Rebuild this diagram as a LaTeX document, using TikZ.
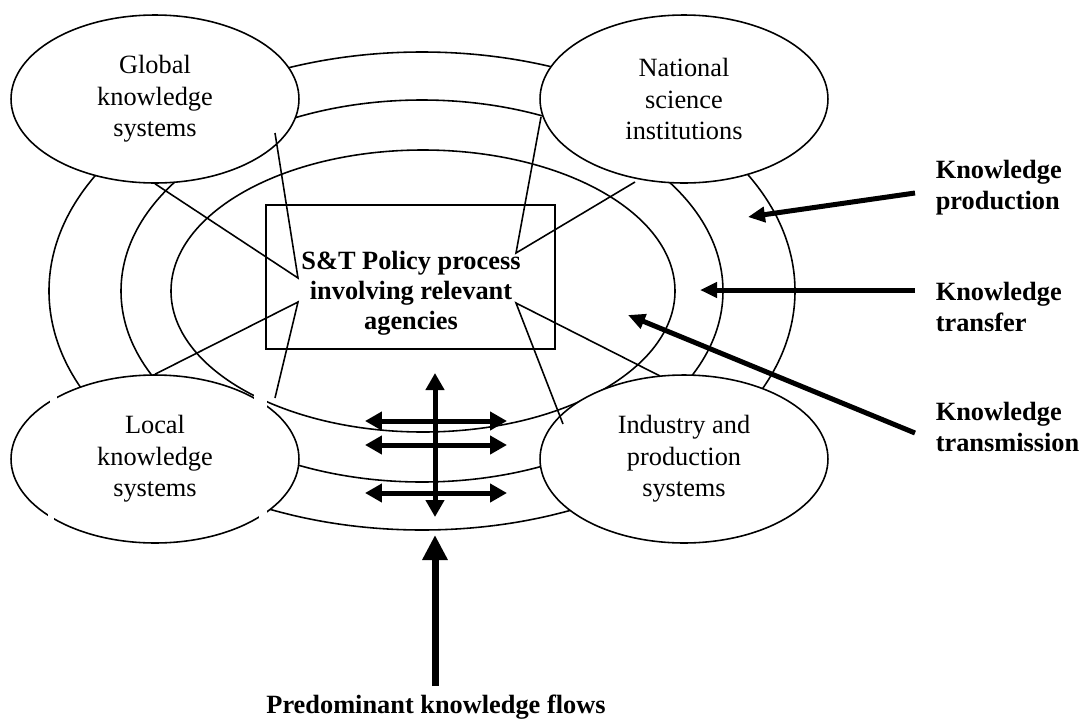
\documentclass[tikz,border=0pt]{standalone}
\usepackage{fontspec}
\setmainfont{Liberation Serif}
\usetikzlibrary{arrows.meta,shapes.geometric}

\begin{document}
\begin{tikzpicture}[x=0.02cm,y=-0.02cm,line width=0.9pt,
    sys/.style={draw,ellipse,fill=white,minimum width=5.76cm,minimum height=3.36cm,inner sep=0pt,align=center,font=\fontsize{15}{18}\selectfont},
    lbl/.style={anchor=west,align=left,inner sep=0pt,font=\fontsize{15}{17.6}\selectfont\bfseries},
    flow/.style={line width=0.1cm,-{Triangle[length=0.34cm,width=0.3cm]}},
    twoway/.style={line width=0.1cm,{Triangle[length=0.34cm,width=0.36cm]}-{Triangle[length=0.34cm,width=0.36cm]}},
    bigflow/.style={line width=0.14cm,-{Triangle[length=0.5cm,width=0.48cm]}}]
\useasboundingbox (0,0) rectangle (1083,724);
% rings
\draw (422,291) ellipse [x radius=373,y radius=239];
\draw (422,291) ellipse [x radius=301,y radius=191];
\draw (423,291) ellipse [x radius=252,y radius=141];
% the four systems
\node[sys] (global) at (155,99) {Global\\knowledge\\systems};
\node[sys] (national) at (684,99) {National\\science\\institutions};
\node[sys] (local) at (155,459) {Local\\knowledge\\systems};
\node[sys] (industry) at (684,459) {Industry and\\production\\systems};
\fill[white] (254,385) rectangle (267,411);
\fill[white] (259,500) rectangle (267,522);
\fill[white] (50,393) rectangle (57,405);
\fill[white] (48,513) rectangle (54,524);
% policy box
\node[draw,minimum width=5.78cm,minimum height=2.88cm] (box) at (410.5,277) {};
\node[align=center,font=\fontsize{15}{17}\selectfont\bfseries] (policy) at (411,293) {S\&T Policy process\\involving relevant\\agencies};
\coordinate (pl1) at (298,278);
\coordinate (pl2) at (298,302);
\coordinate (pr1) at (516,253);
\coordinate (pr2) at (516,303);
\coordinate (gin) at (275,133);
\coordinate (nin) at (541,117);
\coordinate (nbot) at (635,182);
\coordinate (lin) at (275,398);
\coordinate (itop) at (660,376);
\coordinate (iin) at (563,424);
\draw (global.south) -- (pl1) -- (gin);
\draw (nin) -- (pr1) -- (nbot);
\draw (local.north) -- (pl2) -- (lin);
\draw (itop) -- (pr2) -- (iin);
% flows
\draw[twoway] (435,517) -- (435,373);
\foreach \y in {421,445,493}
  \draw[twoway] (365,\y) -- (507,\y);
\node[lbl] (prod) at (935,188) {Knowledge\\production};
\node[lbl] (transf) at (935,307) {Knowledge\\transfer};
\node[lbl] (transm) at (935,427) {Knowledge\\transmission};
\draw[flow] (915,193) -- (748,217);
\draw[flow] (915,290) -- (700,290);
\draw[flow] (915,433) -- (628,315);
\node[font=\fontsize{15}{18}\selectfont\bfseries] (predom) at (436,707) {Predominant knowledge flows};
\draw[bigflow] (435,686) -- (435,535);
\end{tikzpicture}
\end{document}
